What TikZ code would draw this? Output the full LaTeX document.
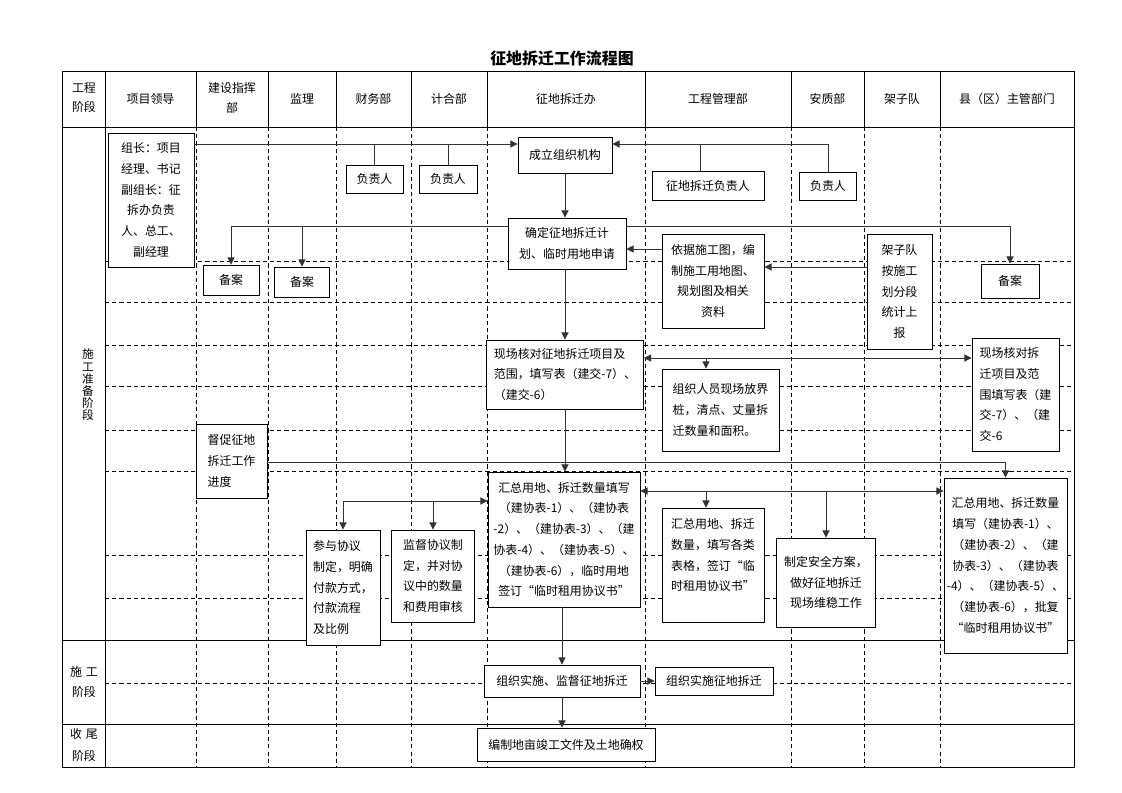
\documentclass[tikz,border=0pt]{standalone}
\usepackage{fontspec}
\setmainfont{Noto Sans CJK SC}
\usetikzlibrary{arrows.meta}
\newdimen\pxu \pxu=0.2647mm
\tikzset{
  box/.style={draw, fill=white, line width=0.7pt, inner sep=2pt, align=center},
  wh/.style 2 args={minimum width=#1*\pxu, minimum height=#2*\pxu},
  head/.style={align=center},
  tableline/.style={line width=0.7pt},
  gridline/.style={line width=0.6pt, dash pattern=on 1.1mm off 0.8mm},
  conn/.style={line width=0.7pt, draw=black!80},
}

\begin{document}
\begin{tikzpicture}[x=0.2647mm, y=-0.2647mm, >={Triangle[length=1.9mm,width=1.9mm]},
    font=\fontsize{9pt}{15.6pt}\selectfont]
\useasboundingbox (0,0) rectangle (1122,793);

% table
\foreach \y in {261,302,345,386,430,471,555,598,683}
  \draw[gridline] (105,\y) -- (1074,\y);
\foreach \x in {196,268,336,411,487,645,791,864,940} {
  \draw[tableline] (\x,71) -- (\x,127);
  \draw[gridline] (\x,127) -- (\x,767);
}
\draw[tableline] (62,71) rectangle (1074,767);
\foreach \y in {127,640,724}
  \draw[tableline] (62,\y) -- (1074,\y);
\draw[tableline] (105,71) -- (105,767);

\node[font=\bfseries\fontsize{12pt}{14pt}\selectfont] (title) at (562,58) {征地拆迁工作流程图};

% header
\node[head, font=\fontsize{9pt}{14.3pt}\selectfont] (h_stage) at (84,98) {工程\\阶段};
\node[head] (h_lead) at (150.5,99) {项目领导};
\node[head] (h_cmd) at (232,98) {建设指挥\\部};
\node[head] (h_jl) at (302,99) {监理};
\node[head] (h_cw) at (373.5,99) {财务部};
\node[head] (h_jh) at (449,99) {计合部};
\node[head] (h_zd) at (566,99) {征地拆迁办};
\node[head] (h_gc) at (718,99) {工程管理部};
\node[head] (h_az) at (827.5,99) {安质部};
\node[head] (h_jz) at (902,99) {架子队};
\node[head] (h_xq) at (1007,99) {县（区）主管部门};

% stages
\node[head, font=\fontsize{8.8pt}{9.2pt}\selectfont] (st_prep) at (88,385) {施\\工\\准\\备\\阶\\段};
\node[head, font=\fontsize{9pt}{15pt}\selectfont] (st_build) at (84,682) {施\hspace{3pt}工\\阶段};
\node[head, font=\fontsize{9pt}{16pt}\selectfont] (st_end) at (84,745) {收\hspace{3pt}尾\\阶段};

% boxes
\node[box, wh={86}{134}] (lead) at (151,200) {组长：项目\\经理、书记\\副组长：征\\拆办负责\\人、总工、\\副经理};
\node[box, wh={57}{28}] (fzrA) at (374.5,179) {负责人};
\node[box, wh={58}{28}] (fzrB) at (448,179) {负责人};
\node[box, wh={94}{36}] (setup) at (565,155) {成立组织机构};
\node[box, wh={112}{29}] (zdfzr) at (708,185.5) {征地拆迁负责人};
\node[box, wh={57}{28}] (fzrC) at (828,186) {负责人};
\node[box, wh={118}{51}] (plan) at (567,243.5) {确定征地拆迁计\\划、临时用地申请};
\node[box, wh={56}{30}] (baA) at (231,280) {备案};
\node[box, wh={55}{30}] (baB) at (302,282) {备案};
\node[box, wh={58}{34}] (baC) at (1010,281) {备案};
\node[box, wh={102}{94}] (base) at (713,281) {依据施工图，编\\制施工用地图、\\规划图及相关\\资料};
\node[box, wh={65}{115}] (jzd) at (899.5,291.5) {架子队\\按施工\\划分段\\统计上\\报};
\node[box, wh={157}{69}, align=left] (check) at (565,374.5) {现场核对征地拆迁项目及\\范围，填写表（建交-7）、\\（建交-6）};
\node[box, wh={117}{82}, align=left] (stake) at (720.5,410) {组织人员现场放界\\桩，清点、丈量拆\\迁数量和面积。};
\node[box, wh={87}{113}, align=left] (checkB) at (1015.5,394.5) {现场核对拆\\迁项目及范\\围填写表（建\\交-7）、（建\\交-6};
\node[box, wh={71}{74}, align=left] (urge) at (231.5,461) {督促征地\\拆迁工作\\进度};
\node[box, wh={152}{135}] (sum) at (564,539.5) {汇总用地、拆迁数量填写\\（建协表-1）、（建协表\\-2）、（建协表-3）、（建\\协表-4）、（建协表-5）、\\（建协表-6），临时用地\\签订“临时租用协议书”};
\node[box, wh={74}{115}, align=left] (join) at (343,587.5) {参与协议\\制定，明确\\付款方式，\\付款流程\\及比例};
\node[box, wh={83}{92}] (audit) at (433,576) {监督协议制\\定，并对协\\议中的数量\\和费用审核};
\node[box, wh={102}{114}, align=left] (sumB) at (713,565) {汇总用地、拆迁\\数量，填写各类\\表格，签订“临\\时租用协议书”\\\mbox{}};
\node[box, wh={99}{89}] (safe) at (826,582.5) {制定安全方案，\\做好征地拆迁\\现场维稳工作};
\node[box, wh={123}{175}, inner sep=1pt] (sumC) at (1005.5,565.5) {汇总用地、拆迁数量\\填写（建协表-1）、\\（建协表-2）、（建\\协表-3）、（建协表\\-4）、（建协表-5）、\\（建协表-6），批复\\“临时租用协议书”};
\node[box, wh={156}{32}] (impl) at (562,681) {组织实施、监督征地拆迁};
\node[box, wh={118}{28}] (implB) at (714,681) {组织实施征地拆迁};
\node[box, wh={178}{33}] (final) at (566,744.5) {编制地亩竣工文件及土地确权};

% levels of the connectors
\coordinate (r144) at (0,144);
\coordinate (r226) at (0,226);
\coordinate (r249) at (0,249);
\coordinate (r267) at (0,267);
\coordinate (r358) at (0,358);
\coordinate (r462) at (0,462);
\coordinate (r491) at (0,491);
\coordinate (r501) at (0,501);
\coordinate (c700) at (700,0);
\coordinate (c706) at (706,0);

% connectors
\draw[conn,->] (lead.east |- r144) -- (setup.west |- r144);
\draw[conn] (fzrA.north) -- (fzrA.north |- r144);
\draw[conn] (fzrB.north) -- (fzrB.north |- r144);
\draw[conn,->] (fzrC.north) |- (setup.east |- r144);
\draw[conn] (c700 |- zdfzr.north) -- (c700 |- r144);
\draw[conn,->] (setup.south) -- (setup.south |- plan.north);
\draw[conn,->] (plan.west |- r226) -| (baA.north);
\draw[conn,->] (baB.north |- r226) -- (baB.north);
\draw[conn,->] (plan.east |- r226) -| (baC.north);
\draw[conn,->] (base.west |- r249) -- (plan.east |- r249);
\draw[conn,->] (jzd.west |- r267) -- (base.east |- r267);
\draw[conn,->] (check.north |- plan.south) -- (check.north);
\draw[conn,<->] (check.east |- r358) -- (checkB.west |- r358);
\draw[conn,->] (c706 |- r358) -- (c706 |- stake.north);
\draw[conn,->] (check.south) -- (check.south |- sum.north);
\draw[conn,->] (urge.east |- r462) -| (sumC.north);
\draw[conn,<->] (sum.east |- r491) -- (sumC.west |- r491);
\draw[conn,->] (c706 |- r491) -- (c706 |- sumB.north);
\draw[conn,->] (safe.north |- r491) -- (safe.north);
\draw[conn,->] (join.north |- r501) -- (sum.west |- r501);
\draw[conn,->] (join.north |- r501) -- (join.north);
\draw[conn,->] (audit.north |- r501) -- (audit.north);
\draw[conn,->] (impl.north |- sum.south) -- (impl.north);
\draw[conn,->] (impl.east) -- (implB.west);
\draw[conn,->] (impl.south) -- (impl.south |- final.north);
\end{tikzpicture}
\end{document}
